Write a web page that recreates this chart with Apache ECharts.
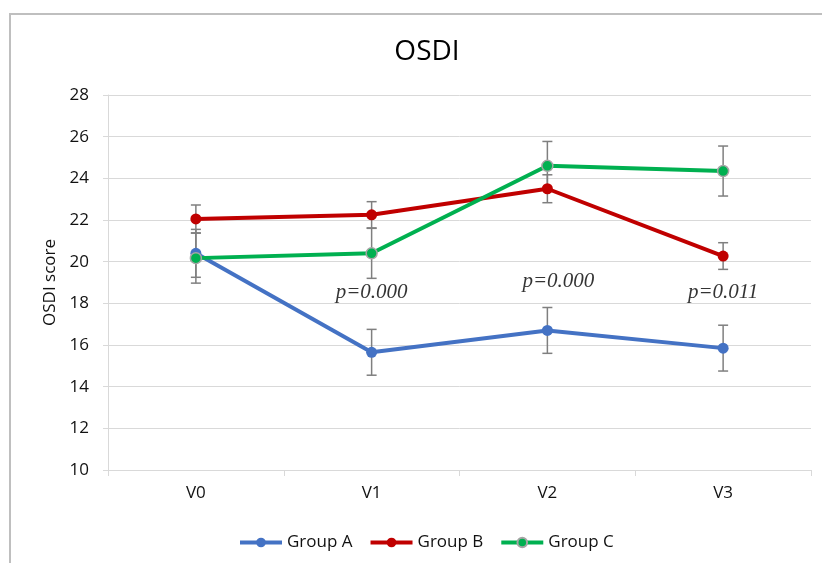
<!DOCTYPE html>
<html>
<head>
<meta charset="utf-8">
<script src="https://cdn.jsdelivr.net/npm/echarts@6/dist/echarts.min.js"></script>
<style>html,body{margin:0;padding:0;background:#fff;}#chart{width:822px;height:563px;}</style>
</head>
<body>
<div id="chart"></div>
<script>
var categories = ['V0', 'V1', 'V2', 'V3'];
var groupNames = ['Group A', 'Group B', 'Group C'];
var groupA = [20.4, 15.65, 16.7, 15.85];
var groupB = [22.05, 22.25, 23.5, 20.27];
var groupC = [20.17, 20.4, 24.6, 24.35];
var errA = [1.15, 1.1, 1.1, 1.1];
var errB = [0.67, 0.63, 0.67, 0.64];
var errC = [1.2, 1.2, 1.17, 1.2];
var pLabels = ['p=0.000', 'p=0.000', 'p=0.011'];
var pLabelCats = [1, 2, 3];
var pLabelY = [18.5, 19.04, 18.5];
var yTicks = {min: 10, max: 28, interval: 2};

var colors = ['#4472C4', '#C00000', '#00B050'];
var means = [groupA, groupB, groupC];
var errs = [errA, errB, errC];
var font = '"Open Sans", sans-serif';
var txt = '#111';

function errData(m, e) {
  return m.map(function (v, i) { return [i, v - e[i], v + e[i]]; });
}

function renderErr(params, api) {
  var x = api.value(0), lo = api.value(1), hi = api.value(2);
  var p1 = api.coord([x, hi]), p2 = api.coord([x, lo]);
  var hw = 5;
  var st = {stroke: '#7f7f7f', lineWidth: 1.5};
  return {type: 'group', children: [
    {type: 'line', shape: {x1: p1[0], y1: p1[1], x2: p2[0], y2: p2[1]}, style: st},
    {type: 'line', shape: {x1: p1[0] - hw, y1: p1[1], x2: p1[0] + hw, y2: p1[1]}, style: st},
    {type: 'line', shape: {x1: p2[0] - hw, y1: p2[1], x2: p2[0] + hw, y2: p2[1]}, style: st}
  ]};
}

var series = [];
means.forEach(function (m, k) {
  series.push({
    name: groupNames[k] + ' err',
    type: 'custom',
    renderItem: renderErr,
    data: errData(m, errs[k]),
    encode: {x: 0, y: [1, 2]},
    z: 1,
    silent: true
  });
});
means.forEach(function (m, k) {
  series.push({
    name: groupNames[k],
    type: 'line',
    data: m,
    symbol: 'circle',
    symbolSize: 11,
    showAllSymbol: true,
    z: 3 + k,
    lineStyle: {width: 4, color: colors[k]},
    itemStyle: k === 2 ? {color: colors[k], borderColor: '#a5a5a5', borderWidth: 1.5} : {color: colors[k]}
  });
});
series.push({
  name: 'p',
  type: 'scatter',
  symbolSize: 0,
  silent: true,
  z: 10,
  data: pLabels.map(function (t, i) {
    return {value: [pLabelCats[i], pLabelY[i]], name: t,
      label: {offset: i === 1 ? [11, 0] : [0, 0]}};
  }),
  label: {
    show: true, position: 'inside',
    formatter: function (p) { return p.name; },
    fontFamily: '"Liberation Serif", "Times New Roman", serif',
    fontStyle: 'italic', fontSize: 21, color: '#000'
  }
});

var chart = echarts.init(document.getElementById('chart'));
chart.setOption({
  animation: false,
  backgroundColor: '#fff',
  graphic: [{
    type: 'rect', silent: true, z: -10,
    shape: {x: 10, y: 14, width: 1000, height: 1000},
    style: {fill: 'none', stroke: '#bfbfbf', lineWidth: 2}
  }],
  title: {
    text: 'OSDI', left: 422, top: 33, textAlign: 'center',
    textStyle: {fontFamily: font, fontSize: 28, fontWeight: 'normal', color: '#000'}
  },
  legend: {
    data: groupNames,
    left: 233, top: 529,
    itemWidth: 42, itemHeight: 12, itemGap: 16,
    lineStyle: {width: 4},
    textStyle: {fontFamily: font, fontSize: 17, color: txt}
  },
  grid: {left: 108, right: 11, top: 95, bottom: 93},
  xAxis: {
    type: 'category', data: categories, boundaryGap: true,
    axisLine: {lineStyle: {color: '#d9d9d9', width: 1}},
    axisTick: {show: true, length: 6, lineStyle: {color: '#d9d9d9'}},
    axisLabel: {fontFamily: font, fontSize: 17, color: txt, margin: 15}
  },
  yAxis: {
    type: 'value', min: yTicks.min, max: yTicks.max, interval: yTicks.interval,
    name: 'OSDI score', nameLocation: 'middle', nameGap: 48,
    nameTextStyle: {fontFamily: font, fontSize: 17, color: txt},
    axisLine: {show: true, lineStyle: {color: '#d9d9d9', width: 1}},
    axisTick: {show: true, length: 5, lineStyle: {color: '#d9d9d9'}},
    splitLine: {lineStyle: {color: '#d9d9d9', width: 1}},
    axisLabel: {fontFamily: font, fontSize: 17, color: txt, margin: 19}
  },
  series: series
});
</script>
</body>
</html>
